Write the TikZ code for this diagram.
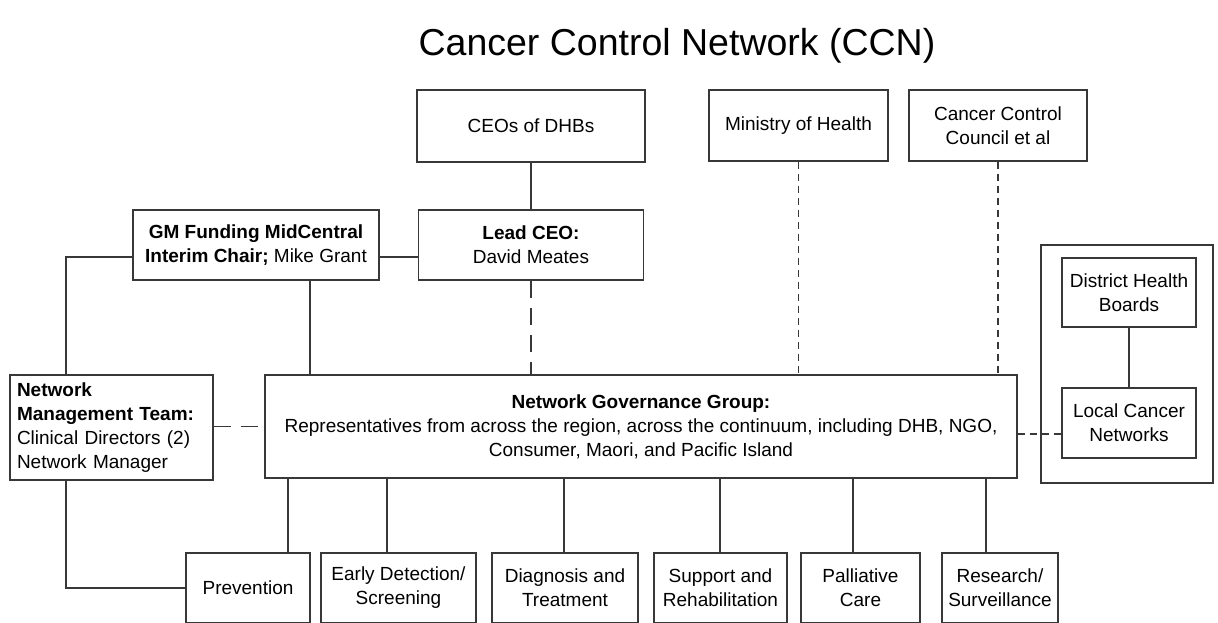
\documentclass[tikz,border=0pt]{standalone}
\usepackage{fontspec}
\setmainfont{Liberation Sans}
\begin{document}
\begin{tikzpicture}[x=1pt,y=-1pt,
  lc/.style={draw=black!78,line width=1.2pt},
  box/.style={lc,rectangle,inner sep=0pt,align=center,font=\fontsize{19}{24}\selectfont},
  longdash/.style={lc,dash pattern=on 17.5pt off 9.5pt},
  shortdash/.style={lc,dash pattern=on 7pt off 5pt}]
\useasboundingbox (0,0) rectangle (1218,622);
\clip (0,0) rectangle (1218,622);
\fill[white] (0,0) rectangle (1218,622);
\node[font=\fontsize{37.5}{42}\selectfont] (title) at (677,46) {Cancer Control Network (CCN)};
% top row
\node[box,minimum width=228pt,minimum height=72pt] (ceo) at (531,126) {CEOs of DHBs};
\node[box,minimum width=179pt,minimum height=71pt] (moh) at (798.5,125.5) {Ministry of Health};
\node[box,minimum width=178pt,minimum height=71pt] (ccc) at (998,125.5) {Cancer Control\\Council et al};
% second row
\node[box,minimum width=246pt,minimum height=70pt] (gm) at (256,245) {\textbf{GM Funding MidCentral}\\\textbf{Interim Chair;} Mike Grant};
\node[box,minimum width=225pt,minimum height=70pt] (lead) at (531,245) {\textbf{Lead CEO:}\\David Meates};
% right group
\node[box,minimum width=172pt,minimum height=238pt] (outer) at (1127,364) {};
\node[box,minimum width=134pt,minimum height=69pt] (dhb) at (1129,292.5) {District Health\\Boards};
\node[box,minimum width=134pt,minimum height=70pt] (lcn) at (1129,423) {Local Cancer\\Networks};
% middle row
\node[box,minimum width=203pt,minimum height=105pt,text width=189pt,align=left] (nmt) at (111.5,427.5) {\textbf{Network}\\\textbf{Management Team:}\\Clinical Directors (2)\\Network Manager};
\node[box,minimum width=752pt,minimum height=103pt] (ngg) at (641,426.5) {\textbf{Network Governance Group:}\\Representatives from across the region, across the continuum, including DHB, NGO,\\Consumer, Maori, and Pacific Island};
% bottom row
\node[box,minimum width=124pt,minimum height=70pt] (prev) at (248,588) {Prevention};
\node[box,minimum width=155pt,minimum height=70pt] (early) at (398.5,588) {Early Detection/\\Screening};
\node[box,minimum width=146pt,minimum height=70pt] (diag) at (565,588) {Diagnosis and\\Treatment};
\node[box,minimum width=133pt,minimum height=70pt] (supp) at (720.5,588) {Support and\\Rehabilitation};
\node[box,minimum width=119pt,minimum height=70pt] (pall) at (860.5,588) {Palliative\\Care};
\node[box,minimum width=116pt,minimum height=70pt] (res) at (1000,588) {Research/\\Surveillance};
% connectors
\draw[lc] (ceo.south) -- (lead.north);
\draw[longdash] (lead.south) -- (lead.south |- ngg.north);
\draw[shortdash] (moh.south) -- (moh.south |- ngg.north);
\draw[shortdash] (ccc.south) -- (ccc.south |- ngg.north);
\draw[lc] ([yshift=-12pt]gm.east) -- ([yshift=-12pt]lead.west);
\coordinate (gmL) at (66,257);
\draw[lc] ([yshift=-12pt]gm.west) -- (gmL) -- (gmL |- nmt.north);
\draw[lc] (gm.south -| 310,0) -- (ngg.north -| 310,0);
\draw[longdash] ([yshift=1pt]nmt.east) -- ([yshift=1pt]nmt.east -| ngg.west);
\coordinate (nmtB) at (66,588);
\draw[lc] (nmt.south -| nmtB) -- (nmtB) -- (prev.west);
\draw[lc] (ngg.south -| 288,0) -- (prev.north -| 288,0);
\draw[lc] (ngg.south -| 387,0) -- (early.north -| 387,0);
\draw[lc] (ngg.south -| 564,0) -- (diag.north -| 564,0);
\draw[lc] (ngg.south -| 720,0) -- (supp.north -| 720,0);
\draw[lc] (ngg.south -| 853,0) -- (pall.north -| 853,0);
\draw[lc] (ngg.south -| 986,0) -- (res.north -| 986,0);
\draw[shortdash] (lcn.west -| ngg.east) ++(0,11) coordinate (nggR) -- (nggR -| lcn.west);
\draw[lc] (dhb.south) -- (lcn.north);
\end{tikzpicture}
\end{document}
